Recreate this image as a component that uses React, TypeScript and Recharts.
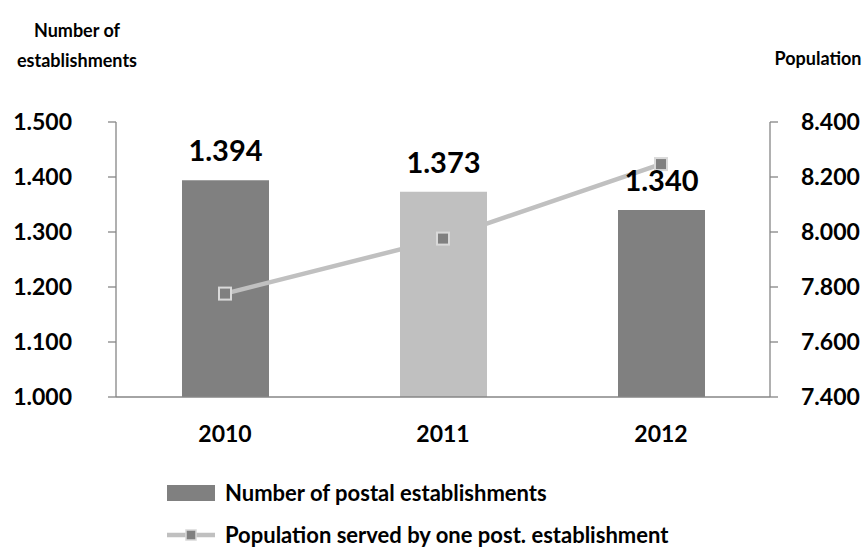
import React from 'react';
import { ComposedChart, Bar, Line, XAxis, YAxis, Cell, LabelList } from 'recharts';

const years = ['2010', '2011', '2012'];
const establishments = [1394, 1373, 1340];
const population = [7776, 7976, 8247];
const barColors = ['#808080', '#c0c0c0', '#808080'];
const leftTicks = [1000, 1100, 1200, 1300, 1400, 1500];
const rightTicks = [7400, 7600, 7800, 8000, 8200, 8400];
const boundaryTicks = [0, 1, 2, 3];
const seriesNames = ['Number of postal establishments', 'Population served by one post. establishment'];
const leftTitle = ['Number of', 'establishments'];
const rightTitle = 'Population';

const data = years.map((y, i) => ({ year: y, est: establishments[i], pop: population[i] }));

const FONT = 'Lato, "Open Sans", sans-serif';
const AXIS = '#868686';
const fmt = (v: number) => (v / 1000).toFixed(3);

const SquareDot = (props: any) => {
  const { cx, cy } = props;
  if (cx == null || cy == null) return null;
  const s = 12;
  return <rect x={cx - s / 2} y={cy - s / 2} width={s} height={s} fill="#808080" stroke="#d9d9d9" strokeWidth={2} />;
};

const tickStyle = { fontFamily: FONT, fontWeight: 700, fontSize: 23, fill: '#000' };

export default function App() {
  return (
    <div style={{ position: 'absolute', left: 0, top: 0, width: 865, height: 549, background: '#fff', fontFamily: FONT, overflow: 'hidden' }}>
      <ComposedChart width={865} height={549} data={data} margin={{ top: 122, right: 0, bottom: 102, left: 0 }}>
        <XAxis
          xAxisId="b"
          type="number"
          domain={[0, 3]}
          ticks={boundaryTicks}
          tickFormatter={() => ''}
          height={0}
          axisLine={false}
          tickSize={8}
          tickLine={{ stroke: AXIS, strokeWidth: 1.3 }}
        />
        <XAxis
          xAxisId="cat"
          dataKey="year"
          height={50}
          axisLine={{ stroke: AXIS, strokeWidth: 1.3 }}
          tickLine={false}
          tickSize={0}
          tickMargin={29}
          tick={tickStyle}
        />
        <YAxis
          yAxisId="l"
          width={116}
          domain={[1000, 1500]}
          ticks={leftTicks}
          tickFormatter={fmt}
          tickSize={8}
          tickMargin={36}
          axisLine={{ stroke: AXIS, strokeWidth: 1.3 }}
          tickLine={{ stroke: AXIS, strokeWidth: 1.3 }}
          tick={tickStyle}
        />
        <YAxis
          yAxisId="r"
          orientation="right"
          width={95}
          domain={[7400, 8400]}
          ticks={rightTicks}
          tickFormatter={fmt}
          tickSize={8}
          tickMargin={23}
          axisLine={{ stroke: AXIS, strokeWidth: 1.3 }}
          tickLine={{ stroke: AXIS, strokeWidth: 1.3 }}
          tick={tickStyle}
        />
        <Bar xAxisId="cat" yAxisId="l" dataKey="est" barSize={87} isAnimationActive={false}>
          {data.map((d, i) => (
            <Cell key={d.year} fill={barColors[i]} />
          ))}
          <LabelList
            dataKey="est"
            position="top"
            offset={19}
            formatter={(v: any) => fmt(Number(v))}
            style={{ fontFamily: FONT, fontWeight: 700, fontSize: 29, fill: '#000' }}
          />
        </Bar>
        <Line
          xAxisId="cat"
          yAxisId="r"
          dataKey="pop"
          stroke="#c0c0c0"
          strokeWidth={4.5}
          dot={<SquareDot />}
          activeDot={false}
          isAnimationActive={false}
        />
      </ComposedChart>

      <div style={{ position: 'absolute', left: 0, top: 15, width: 154, textAlign: 'center', fontWeight: 700, fontSize: 18, lineHeight: '30px', color: '#000' }}>
        <div>{leftTitle[0]}</div>
        <div>{leftTitle[1]}</div>
      </div>
      <div style={{ position: 'absolute', left: 770, top: 47, width: 96, textAlign: 'center', fontWeight: 700, fontSize: 18, lineHeight: '22px', color: '#000' }}>
        {rightTitle}
      </div>

      <div style={{ position: 'absolute', left: 167, top: 479, fontWeight: 700, fontSize: 22, lineHeight: '26px', color: '#000' }}>
        <div style={{ display: 'flex', alignItems: 'center', height: 28 }}>
          <div style={{ width: 48, height: 16, background: '#808080', marginRight: 10 }} />
          <span>{seriesNames[0]}</span>
        </div>
        <div style={{ display: 'flex', alignItems: 'center', height: 28, marginTop: 14 }}>
          <svg width={48} height={16} style={{ marginRight: 10 }}>
            <line x1={0} y1={8} x2={48} y2={8} stroke="#c0c0c0" strokeWidth={4.5} />
            <rect x={19} y={3} width={10} height={10} fill="#808080" stroke="#d9d9d9" strokeWidth={1.5} />
          </svg>
          <span>{seriesNames[1]}</span>
        </div>
      </div>
    </div>
  );
}
